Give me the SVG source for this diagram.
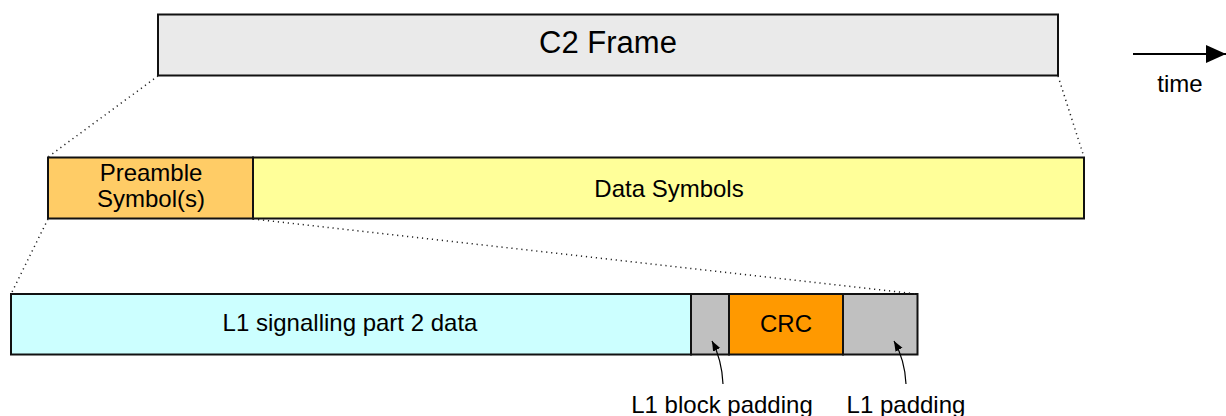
<svg xmlns="http://www.w3.org/2000/svg" width="1226" height="416" viewBox="0 0 1226 416">
<defs>
<style>
.box{stroke:#111;stroke-width:2}
.t{font-family:"Liberation Sans",Arial,sans-serif;font-size:24px;fill:#000}
.dot{stroke:#222;stroke-width:1.5;stroke-dasharray:1.2 3.8;fill:none}
.ann{stroke:#000;stroke-width:1.2;fill:none}
</style>
<marker id="ah" viewBox="0 0 10 10" refX="10" refY="5" markerWidth="10" markerHeight="10" markerUnits="userSpaceOnUse" orient="auto">
<path d="M0,1 L10,5 L0,9 Z" fill="#000"/>
</marker>
<marker id="ta" viewBox="0 0 20 18" refX="20" refY="9" markerWidth="20" markerHeight="18" markerUnits="userSpaceOnUse" orient="auto">
<path d="M0,0 L20,9 L0,18 Z" fill="#000"/>
</marker>
</defs>
<rect width="1226" height="416" fill="#fff"/>
<g id="c2frame">
<rect class="box" x="158" y="14.5" width="900" height="61" fill="#eaeaea"/>
<text class="t" x="608" y="53" text-anchor="middle" style="font-size:31px">C2 Frame</text>
</g>
<g id="preamble">
<rect class="box" x="48" y="157.5" width="205" height="61" fill="#ffcc66"/>
<text class="t" x="151" y="181" text-anchor="middle">Preamble</text>
<text class="t" x="151" y="207" text-anchor="middle">Symbol(s)</text>
</g>
<g id="data">
<rect class="box" x="253" y="157.5" width="831" height="61" fill="#ffff99"/>
<line x1="253" y1="157.5" x2="253" y2="218.5" stroke="#111" stroke-width="2" stroke-dasharray="4 1.5"/>
<text class="t" x="669" y="197" text-anchor="middle">Data Symbols</text>
</g>
<g id="l1data">
<rect class="box" x="11" y="294" width="680" height="60.5" fill="#ccffff"/>
<text class="t" x="350" y="331" text-anchor="middle">L1 signalling part 2 data</text>
</g>
<g id="blockpad">
<rect class="box" x="691" y="294" width="38" height="60.5" fill="#c0c0c0"/>
</g>
<g id="crc">
<rect class="box" x="729" y="294" width="114" height="60.5" fill="#ff9900"/>
<text class="t" x="786" y="332" text-anchor="middle">CRC</text>
</g>
<g id="l1pad">
<rect class="box" x="843" y="294" width="74.5" height="60.5" fill="#c0c0c0"/>
</g>
<g id="labels">
<text class="t" x="722" y="413" text-anchor="middle">L1 block padding</text>
<text class="t" x="906" y="413" text-anchor="middle">L1 padding</text>
<text class="t" x="1180" y="92" text-anchor="middle">time</text>
</g>
<g id="connectors">
<line class="dot" x1="158" y1="76" x2="48" y2="157"/>
<line class="dot" x1="1058" y1="76" x2="1084" y2="157"/>
<line class="dot" x1="48" y1="219" x2="11" y2="294"/>
<line class="dot" x1="253" y1="219" x2="917" y2="294"/>
<path class="ann" d="M723,384 Q722,360 712,341" marker-end="url(#ah)"/>
<path class="ann" d="M906,384 Q905,360 894,341" marker-end="url(#ah)"/>
<line x1="1133" y1="54" x2="1226" y2="54" stroke="#000" stroke-width="2" marker-end="url(#ta)"/>
</g>
</svg>
